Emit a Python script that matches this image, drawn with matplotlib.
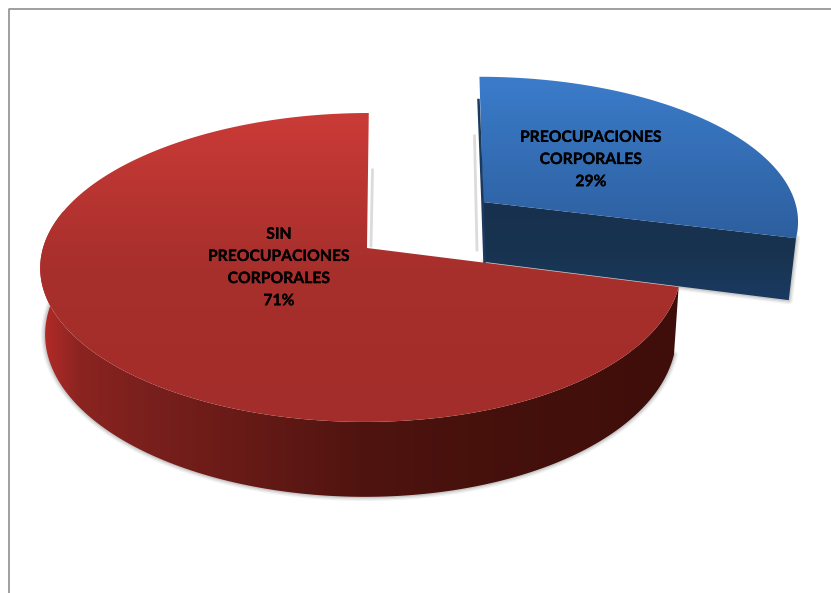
import numpy as np
import matplotlib.pyplot as plt
import matplotlib.patheffects as pe
from matplotlib.colors import LinearSegmentedColormap
from matplotlib.patches import Polygon

labels = ["PREOCUPACIONES\nCORPORALES", "SIN\nPREOCUPACIONES\nCORPORALES"]
values = [29, 71]

W, H = 831, 593
PERSP = 0.126

fig = plt.figure(figsize=(W / 100, H / 100), dpi=100)
ax = fig.add_axes([0, 0, 1, 1])
ax.set_xlim(0, W)
ax.set_ylim(H, 0)
ax.axis("off")


def rim(t, cx, cy, rx, ry, warp=0, shear=0):
    # project a point of the tilted disc, t in degrees clockwise from the top
    X = np.sin(np.radians(t))
    Y = np.cos(np.radians(t))
    s = 1 / (1 + PERSP * Y)
    x = cx + s * (rx * X - warp * X ** 2 + shear * Y)
    y = cy - s * ry * Y
    return x, y, s


def fill_gradient(pts, colors, vertical=True, zorder=1):
    cmap = LinearSegmentedColormap.from_list("g", colors)
    x0, x1 = pts[:, 0].min(), pts[:, 0].max()
    y0, y1 = pts[:, 1].min(), pts[:, 1].max()
    ramp = np.linspace(0, 1, 256)
    ramp = ramp.reshape(-1, 1) if vertical else ramp.reshape(1, -1)
    im = ax.imshow(ramp, cmap=cmap, extent=[x0, x1, y1, y0], aspect="auto",
                   zorder=zorder, interpolation="bilinear")
    patch = Polygon(pts, closed=True, transform=ax.transData, fc="none", ec="none")
    ax.add_patch(patch)
    im.set_clip_path(patch)


def add_shadow(pts, z):
    # soft gray halo, a few widening outlines underneath the solid
    for lw, a in [(6, 0.05), (4, 0.07), (2, 0.1)]:
        ax.add_patch(Polygon(pts, closed=True, fc="none", ec="black", lw=lw, alpha=a,
                             joinstyle="round", zorder=z))


def draw_face(t0, t1, geo, cols, z):
    t = np.linspace(t0, t1, 300)
    x, y, s = rim(t, **geo)
    face = np.vstack([[geo["cx"], geo["cy"]], np.column_stack([x, y])])
    fill_gradient(face, cols, zorder=z)


angles = np.cumsum([0] + values) * 360 / sum(values)

# gray sheet border, open on the right and at the bottom
ax.plot([8.5, 8.5, W], [H, 8.5, 8.5], color="#8f8f8f", lw=1.2, zorder=0.5)

blue_geo = dict(cx=483, cy=202, rx=312, ry=141, shear=-4)
red_geo = dict(cx=367, cy=248, rx=318, ry=152, warp=6, shear=2)
blue_depth, blue_shrink = 60, 0.977
red_depth, red_shrink = 65.5, 0.985

# faint shadows on the white gap between the slices
ax.plot([474.5, 477], [136, 250], color="#9a9a9a", lw=2, alpha=0.35, zorder=0.8)
ax.plot([372.5, 371], [170, 246], color="#9a9a9a", lw=2, alpha=0.35, zorder=0.8)

# blue slice: only the straight cut side faces the viewer
xe, ye, se = rim(angles[1], **blue_geo)
cx, cy = blue_geo["cx"], blue_geo["cy"]
blue_wall = np.array([[cx, cy], [xe, ye],
                      [cx + (xe - cx) * blue_shrink, ye + blue_depth * se],
                      [cx + 2, cy + blue_depth]])
add_shadow(blue_wall[[1, 2, 3]], 1.5)
fill_gradient(blue_wall, ["#17304e", "#18334f", "#1a3a60"], zorder=2)
draw_face(angles[0], angles[1], blue_geo, ["#3b7cca", "#2d5f9f"], 2.2)
ax.plot([478.5, 482.5, 484.5], [100, 202, 262], color="#1b3a5e", lw=1.8, zorder=2.3)

# red slice: curved front wall, then the top face over it
t = np.linspace(angles[1], angles[2], 400)
t = t[np.cos(np.radians(t)) < 0.25]
x, y, s = rim(t, **red_geo)
xb = red_geo["cx"] + (x - red_geo["cx"]) * red_shrink
yb = y + red_depth * s
red_wall = np.column_stack([np.r_[x, xb[::-1]], np.r_[y, yb[::-1]]])
add_shadow(np.column_stack([xb, yb]), 3.5)
wall_stops = [(0, "#b52b29"), (0.06, "#8b2420"), (0.16, "#7a201d"), (0.33, "#661a16"),
              (0.5, "#501410"), (0.67, "#47110c"), (1, "#3f0e0a")]
fill_gradient(red_wall, wall_stops, vertical=False, zorder=4)
draw_face(angles[1], angles[2], red_geo, ["#ca3b37", "#a72f2c", "#a32d2a"], 4.2)

text_pos = [(591, 160), (279, 268)]
for name, v, (tx, ty) in zip(labels, values, text_pos):
    ax.text(tx, ty, f"{name}\n{v}%", ha="center", va="center", fontsize=11.3,
            fontweight="bold", family="Lato", color="black", linespacing=1.74, zorder=10,
            path_effects=[pe.withStroke(linewidth=0.2, foreground="black")])

fig.savefig("out.png", dpi=100, facecolor="white")
